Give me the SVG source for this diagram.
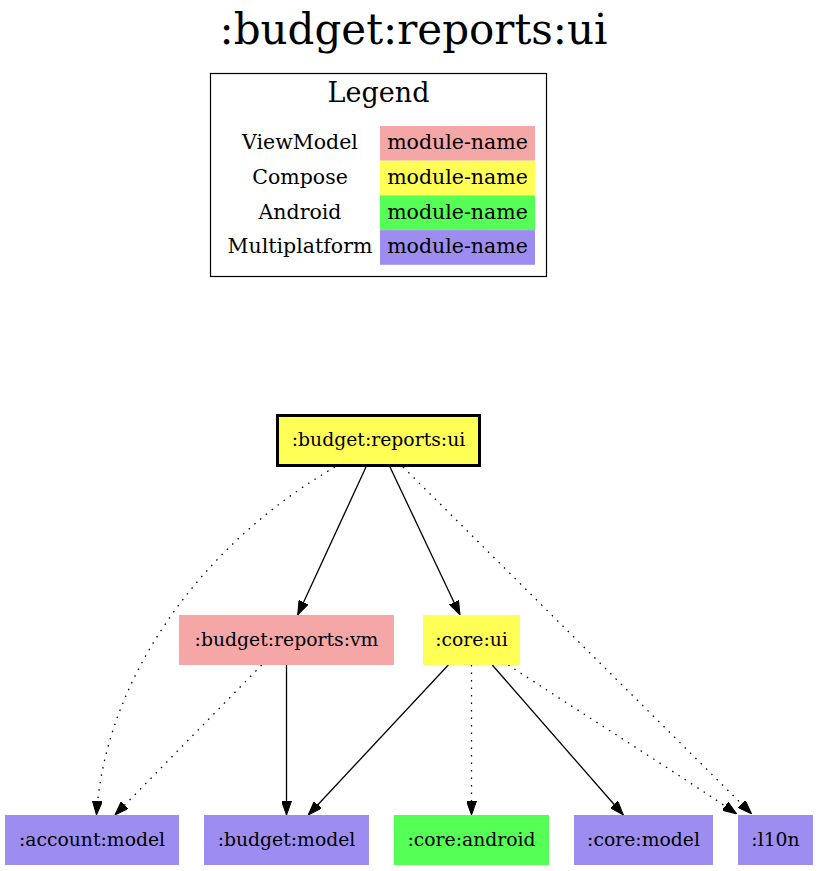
<svg xmlns="http://www.w3.org/2000/svg" width="819" height="871" viewBox="0 0 819 871">
<style>
text{font-family:"DejaVu Serif","Liberation Serif",serif;fill:#000;text-anchor:middle}
.title{font-size:42px}
.lgt{font-size:27px}
.lg{font-size:20.5px}
.nl{font-size:18.8px}
.vm{fill:#F5A6A6}
.cmp{fill:#FFFF55}
.and{fill:#55FF55}
.mp{fill:#9D8DF1}
.e{fill:none;stroke:#000;stroke-width:1.3}
.d{stroke-dasharray:1.5 6}
</style>
<defs>
<marker id="ah" viewBox="0 0 14 10" refX="14" refY="5" markerWidth="14" markerHeight="10" markerUnits="userSpaceOnUse" orient="auto">
<path d="M0,0 L14,5 L0,10 z" fill="#000" stroke="#000" stroke-width="1"/>
</marker>
</defs>
<rect width="819" height="871" fill="#fff"/>
<text class="title" x="413.5" y="44">:budget:reports:ui</text>
<g id="legend">
<rect x="210.5" y="73.5" width="336" height="203" fill="none" stroke="#000" stroke-width="1.2"/>
<text class="lgt" x="378.5" y="101.5">Legend</text>
<rect class="vm" x="380" y="126" width="155" height="34.7"/>
<rect class="cmp" x="380" y="160.7" width="155" height="34.7"/>
<rect class="and" x="380" y="195.4" width="155" height="34.7"/>
<rect class="mp" x="380" y="230.1" width="155" height="34.7"/>
<text class="lg" x="300" y="149.3">ViewModel</text>
<text class="lg" x="457.5" y="149.3">module-name</text>
<text class="lg" x="300" y="184">Compose</text>
<text class="lg" x="457.5" y="184">module-name</text>
<text class="lg" x="300" y="218.7">Android</text>
<text class="lg" x="457.5" y="218.7">module-name</text>
<text class="lg" x="300" y="253.4">Multiplatform</text>
<text class="lg" x="457.5" y="253.4">module-name</text>
</g>
<g id="edges">
<path class="e d" d="M335,467 C200,545 105,680 96.5,815" marker-end="url(#ah)"/>
<path class="e" d="M366,467 L297.7,615" marker-end="url(#ah)"/>
<path class="e" d="M390,467 L460,615" marker-end="url(#ah)"/>
<path class="e d" d="M403,467 L751.7,814" marker-end="url(#ah)"/>
<path class="e d" d="M261.7,665 L115,815" marker-end="url(#ah)"/>
<path class="e" d="M286.5,665 L286.5,815" marker-end="url(#ah)"/>
<path class="e" d="M448.3,665 L308.3,815" marker-end="url(#ah)"/>
<path class="e d" d="M471.5,665 L471.5,815" marker-end="url(#ah)"/>
<path class="e" d="M492.3,665 L623.3,815" marker-end="url(#ah)"/>
<path class="e d" d="M508.3,665 C580,712 680,775 736.7,814" marker-end="url(#ah)"/>
</g>
<g id="n-budget-reports-ui">
<rect class="cmp" x="277.5" y="415.5" width="202" height="50" stroke="#000" stroke-width="3"/>
<text class="nl" x="378.5" y="446">:budget:reports:ui</text>
</g>
<g id="n-budget-reports-vm">
<rect class="vm" x="179" y="615" width="215" height="50"/>
<text class="nl" x="286.5" y="645.5">:budget:reports:vm</text>
</g>
<g id="n-core-ui">
<rect class="cmp" x="423" y="615" width="97" height="50"/>
<text class="nl" x="471.5" y="645.5">:core:ui</text>
</g>
<g id="n-account-model">
<rect class="mp" x="5" y="815" width="174" height="50"/>
<text class="nl" x="92" y="845.5">:account:model</text>
</g>
<g id="n-budget-model">
<rect class="mp" x="204" y="815" width="165" height="50"/>
<text class="nl" x="286.5" y="845.5">:budget:model</text>
</g>
<g id="n-core-android">
<rect class="and" x="394" y="815" width="155" height="50"/>
<text class="nl" x="471.5" y="845.5">:core:android</text>
</g>
<g id="n-core-model">
<rect class="mp" x="574" y="815" width="139" height="50"/>
<text class="nl" x="643.5" y="845.5">:core:model</text>
</g>
<g id="n-l10n">
<rect class="mp" x="738" y="815" width="75" height="50"/>
<text class="nl" x="775.5" y="845.5">:l10n</text>
</g>
</svg>
